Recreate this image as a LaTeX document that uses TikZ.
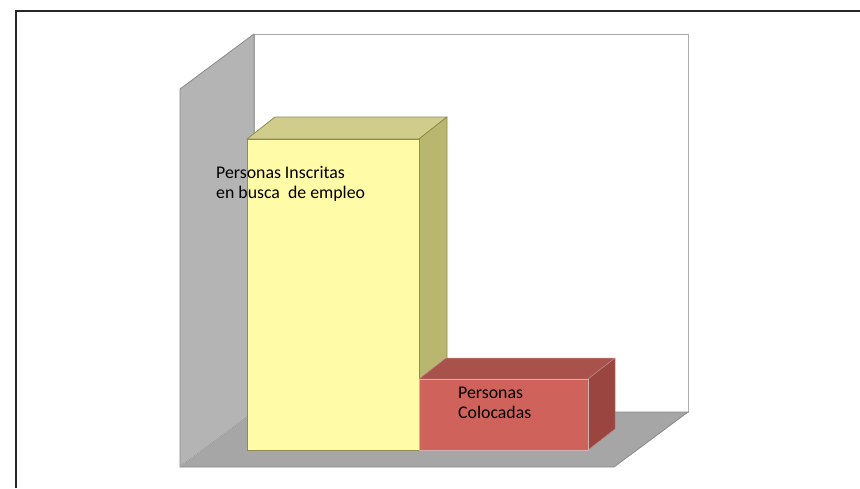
\documentclass[tikz,border=0pt]{standalone}
\usepackage{fontspec}
\setmainfont{Carlito}
\definecolor{wallgray}{HTML}{B4B4B4}
\definecolor{floorgray}{HTML}{A6A6A6}
\definecolor{edgegray}{HTML}{8A8A8A}
\definecolor{yfront}{HTML}{FFFBA6}
\definecolor{ytop}{HTML}{CFCC8C}
\definecolor{yside}{HTML}{B9B670}
\definecolor{yedge}{HTML}{8E8C4E}
\definecolor{rfront}{HTML}{CF635B}
\definecolor{rtop}{HTML}{A9524B}
\definecolor{rside}{HTML}{9A4540}
\definecolor{redge}{HTML}{8A3C37}
\begin{document}
\begin{tikzpicture}[x=1pt,y=-1pt,
  wall/.style={fill=wallgray,draw=edgegray,line width=0.8pt,line join=round},
  lbl/.style={font=\fontsize{17.8}{19.8}\selectfont,align=left,inner sep=0pt,anchor=base west}]
\useasboundingbox (0,0) rectangle (860,488);
\fill[white] (0,0) rectangle (860,488);
% outer frame
\draw[line width=1.2pt,black!85] (16,488) -- (16,11) -- (860,11);
% back wall
\draw[fill=white,draw=edgegray!70,line width=0.8pt] (254,34) rectangle (688,412);
% left wall
\draw[wall] (254,34) -- (180,89) -- (180,467) -- (254,412) -- cycle;
% floor
\draw[fill=floorgray,draw=edgegray,line width=0.8pt,line join=round] (180,467) -- (254,412) -- (688,412) -- (614,467) -- cycle;
\draw[edgegray!60,line width=0.5pt] (180,467) -- (254,412);
% yellow bar
\draw[fill=ytop,draw=yedge,line width=0.8pt,line join=round] (247,139) -- (275,117) -- (447,117) -- (419,139) -- cycle;
\draw[fill=yside,draw=yedge,line width=0.8pt,line join=round] (419,139) -- (447,117) -- (447,428) -- (419,450) -- cycle;
\draw[fill=yfront,draw=yedge,line width=0.8pt] (247,139) rectangle (419,450);
% red bar
\draw[fill=rtop,draw=redge!60,line width=0.5pt,line join=round] (419,379) -- (446,358) -- (615,358) -- (588,379) -- cycle;
\draw[fill=rside,draw=redge!60,line width=0.5pt,line join=round] (588,379) -- (615,358) -- (615,429) -- (588,450) -- cycle;
\draw[fill=rfront,draw=redge!40,line width=0.5pt] (419,379) rectangle (588,450);
% labels
\node[lbl] (inscritas) at (216,198) {Personas Inscritas\\en busca\ \ de empleo};
\node[lbl] (colocadas) at (458,418) {Personas\\Colocadas};
\end{tikzpicture}
\end{document}
